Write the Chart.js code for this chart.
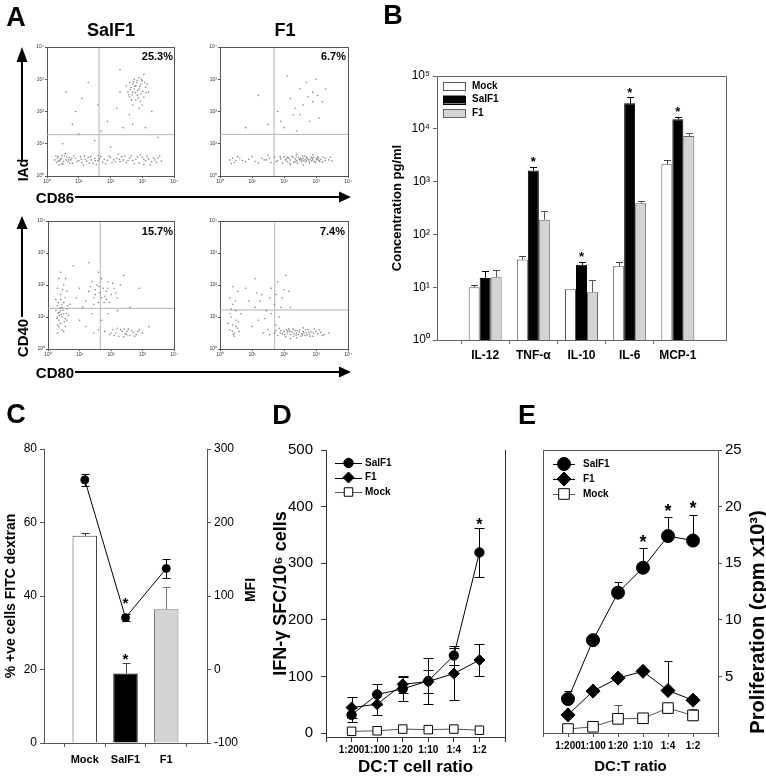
<!DOCTYPE html>
<html>
<head>
<meta charset="utf-8">
<title>DC activation figure</title>
<script src="https://cdn.jsdelivr.net/npm/chart.js@4.4.1/dist/chart.umd.min.js"></script>
<style>
  body { margin: 0; background: #fff; }
  #fig { position: relative; width: 766px; height: 783px; overflow: hidden; font-family: "Liberation Sans", Arial, sans-serif; color: #000; }
  #fig canvas { position: absolute; }
  .t { position: absolute; font-weight: bold; white-space: nowrap; line-height: 1; transform: translate(-50%, -50%); }
  .r { transform: translate(-100%, -50%); }
  .v { transform: translate(-50%, -50%) rotate(-90deg); }
</style>
</head>
<body>
<div id="fig">
  <canvas id="a1" width="152" height="148" style="left:28px;top:40px"></canvas>
  <canvas id="a2" width="152" height="148" style="left:201px;top:40px"></canvas>
  <canvas id="a3" width="151" height="147" style="left:29px;top:214px"></canvas>
  <canvas id="a4" width="152" height="147" style="left:201px;top:214px"></canvas>
  <canvas id="cb" width="350" height="320" style="left:385px;top:60px"></canvas>
  <canvas id="cc" width="262" height="353" style="left:0px;top:430px"></canvas>
  <canvas id="cd" width="250" height="353" style="left:262px;top:430px"></canvas>
  <canvas id="ce" width="254" height="353" style="left:512px;top:430px"></canvas>

  <svg width="766" height="783" style="position:absolute;left:0;top:0">
    <g stroke="#000" stroke-width="2">
      <line x1="22" y1="162" x2="22" y2="58"/>
      <line x1="75" y1="197" x2="342" y2="197"/>
      <line x1="22" y1="317" x2="22" y2="226"/>
      <line x1="75" y1="372" x2="342" y2="372"/>
    </g>
    <g fill="#000">
      <polygon points="22,47 16.5,62 27.5,62"/>
      <polygon points="351,197 339,191.5 339,202.5"/>
      <polygon points="22,216 16.5,229 27.5,229"/>
      <polygon points="351,372 339,366.5 339,377.5"/>
    </g>
  </svg>

  <div class="t" style="left:16px;top:17px;font-size:27px">A</div>
  <div class="t" style="left:393px;top:15px;font-size:27px">B</div>
  <div class="t" style="left:16px;top:414px;font-size:27px">C</div>
  <div class="t" style="left:282px;top:415px;font-size:27px">D</div>
  <div class="t" style="left:527px;top:415px;font-size:27px">E</div>

  <div class="t" style="left:111px;top:30px;font-size:18px">SalF1</div>
  <div class="t" style="left:285px;top:30px;font-size:18px">F1</div>
  <div class="t r" style="left:173px;top:56px;font-size:11px">25.3%</div>
  <div class="t r" style="left:346px;top:56px;font-size:11px">6.7%</div>
  <div class="t r" style="left:173px;top:231px;font-size:11px">15.7%</div>
  <div class="t r" style="left:345px;top:231px;font-size:11px">7.4%</div>
  <div class="t v" style="left:23px;top:170px;font-size:14px">IAd</div>
  <div class="t" style="left:55px;top:197px;font-size:15px">CD86</div>
  <div class="t v" style="left:22px;top:338px;font-size:15px">CD40</div>
  <div class="t" style="left:55px;top:372px;font-size:15px">CD80</div>

  <div class="t v" style="left:250px;top:590px;font-size:14px">MFI</div>
  <div class="t v" style="left:757px;top:622px;font-size:20px">Proliferation (cpm x10³)</div>
</div>

<script>
// ---------- data ----------
// A: flow cytometry dots, in log decades (0 = 10^0 ... 4 = 10^4), x,y pairs
var dotsIAdSal = [
  0.25,0.5, 0.3,0.42, 0.35,0.6, 0.4,0.48, 0.45,0.55, 0.5,0.38, 0.55,0.62, 0.6,0.5, 0.65,0.44, 0.7,0.57,
  0.75,0.5, 0.8,0.4, 0.9,0.55, 1.0,0.48, 1.05,0.6, 1.1,0.42, 1.2,0.52, 1.25,0.46, 1.3,0.58, 1.4,0.5,
  1.45,0.4, 1.5,0.55, 1.6,0.47, 1.7,0.6, 1.75,0.43, 1.8,0.52, 1.9,0.49, 2.0,0.58, 2.05,0.41, 2.1,0.5,
  2.2,0.55, 2.3,0.45, 2.35,0.6, 2.4,0.5, 2.5,0.42, 2.6,0.56, 2.7,0.48, 2.8,0.52, 2.9,0.4, 3.0,0.58,
  3.1,0.47, 3.2,0.53, 3.3,0.44, 3.4,0.5, 3.5,0.56, 3.6,0.46, 0.38,0.35, 0.58,0.7, 1.15,0.33, 2.25,0.68,
  2.95,0.66, 3.25,0.34, 0.42,0.52, 0.52,0.45, 0.33,0.55, 1.55,0.36, 2.65,0.63, 3.05,0.36,
  0.28,0.62, 0.47,0.36, 0.62,0.58, 0.72,0.4, 0.85,0.62, 0.95,0.45, 1.08,0.52, 1.18,0.62, 1.33,0.4, 1.38,0.6,
  1.52,0.47, 1.65,0.53, 1.85,0.38, 1.95,0.62, 2.15,0.44, 2.28,0.52, 2.45,0.62, 2.55,0.48, 2.75,0.38, 2.85,0.6,
  3.05,0.52, 3.15,0.62, 3.35,0.56, 3.45,0.42, 3.55,0.62, 0.36,0.46, 0.48,0.64, 0.68,0.5, 0.78,0.55, 1.62,0.63,
  2.6,2.9, 2.7,2.6, 2.8,2.8, 2.9,2.7, 3.0,2.95, 2.75,3.0, 2.85,2.5, 2.95,2.55, 3.1,2.75, 2.65,2.75,
  2.55,2.6, 2.8,2.35, 3.05,2.45, 2.9,3.05, 2.7,2.85, 3.15,2.85, 2.6,2.45, 2.85,2.65, 2.95,2.85, 2.75,2.7,
  3.0,2.2, 2.9,2.1, 2.7,2.2, 3.2,2.6, 2.5,2.8, 3.05,3.15, 2.82,2.9, 2.68,2.52,
  2.62,2.68, 2.78,2.58, 2.92,2.78, 3.02,2.62, 2.72,2.92, 2.88,2.42, 2.98,3.0, 2.58,2.52, 3.12,2.58, 2.76,2.78,
  2.84,2.96, 2.66,2.36, 3.08,2.9, 2.94,2.32,
  0.8,1.6, 1.1,2.4, 1.9,1.7, 2.2,2.1, 2.4,1.5, 1.5,1.1, 2.6,1.9, 0.5,1.0, 2.0,0.9, 3.3,2.0,
  1.3,2.9, 2.3,3.3, 0.9,2.0, 1.7,1.4, 3.5,1.2, 1.0,1.3, 2.7,1.6, 3.1,1.5, 1.6,2.2, 0.6,2.6, 2.3,2.6
];
var dotsIAdF1 = [
  0.3,0.5, 0.4,0.55, 0.45,0.42, 0.55,0.6, 0.7,0.48, 0.9,0.52, 1.1,0.45, 1.3,0.55, 1.45,0.5, 1.6,0.42,
  1.7,0.58, 1.8,0.48, 1.9,0.53, 1.95,0.4, 2.0,0.6, 2.05,0.5, 2.1,0.45, 2.15,0.56, 2.2,0.5, 2.25,0.62,
  2.3,0.42, 2.35,0.53, 2.4,0.47, 2.45,0.58, 2.5,0.5, 2.55,0.44, 2.6,0.55, 2.65,0.62, 2.7,0.48, 2.75,0.52,
  2.8,0.4, 2.85,0.58, 2.9,0.5, 2.95,0.45, 3.0,0.55, 3.05,0.6, 3.1,0.48, 3.15,0.52, 3.2,0.43, 3.3,0.55,
  3.4,0.5, 3.5,0.47, 2.2,0.35, 2.6,0.34, 2.9,0.66, 2.4,0.68, 1.5,0.65, 0.35,0.38, 2.7,0.58, 2.35,0.45,
  2.52,0.55, 2.78,0.46, 3.02,0.5, 2.12,0.58, 2.62,0.47, 2.88,0.55,
  0.5,0.48, 0.62,0.55, 0.8,0.44, 1.0,0.6, 1.2,0.4, 1.38,0.5, 1.55,0.56, 1.75,0.45, 1.88,0.6, 2.08,0.55,
  2.18,0.4, 2.28,0.57, 2.38,0.62, 2.42,0.4, 2.48,0.52, 2.58,0.62, 2.68,0.44, 2.72,0.56, 2.82,0.52, 2.92,0.58,
  2.98,0.42, 3.08,0.56, 3.12,0.44, 3.22,0.58, 3.28,0.48, 3.45,0.58, 2.56,0.5, 2.66,0.52, 2.86,0.47, 3.06,0.52,
  2.0,1.5, 2.3,1.9, 2.6,2.2, 2.9,2.6, 3.0,3.0, 2.5,2.7, 2.2,2.4, 2.8,1.7, 3.2,2.3, 1.8,2.0,
  2.4,1.4, 2.7,2.9, 3.1,1.8, 1.5,1.6, 2.1,3.1, 0.8,1.5, 1.2,2.5, 3.3,2.7,
  2.5,1.9, 2.9,2.3, 2.35,2.1, 2.75,2.45, 1.9,1.7, 3.05,2.5
];
var dotsCD40Sal = [
  0.3,1.0, 0.4,1.2, 0.35,0.9, 0.5,1.1, 0.45,1.3, 0.55,0.95, 0.6,1.25, 0.3,1.35, 0.4,0.8, 0.5,1.45,
  0.35,1.15, 0.65,1.05, 0.25,1.2, 0.45,1.0, 0.55,1.6, 0.4,1.7, 0.3,1.9, 0.5,2.0, 0.35,2.2, 0.6,1.8,
  0.45,0.6, 0.3,0.5, 0.55,0.7, 0.4,2.4, 0.25,1.55, 0.7,1.4, 0.5,0.55, 0.35,0.7, 0.42,1.08, 0.38,1.28,
  0.32,1.12, 0.48,1.22, 0.58,1.1, 0.28,0.95, 0.44,1.4, 0.52,0.85, 0.36,1.05, 0.62,1.35, 0.4,1.55, 0.3,0.75,
  0.46,1.85, 0.56,2.2, 0.33,1.45, 0.6,0.9,
  1.3,1.8, 1.45,1.6, 1.55,2.0, 1.65,1.75, 1.75,1.9, 1.85,1.55, 1.9,2.1, 2.0,1.7, 2.1,1.9, 1.6,1.45,
  1.4,2.1, 1.7,2.2, 1.8,1.65, 1.5,1.85, 2.2,1.6, 1.95,1.45, 1.2,1.5, 2.3,2.0, 1.0,1.9, 0.9,1.6,
  1.1,1.3, 2.4,2.3, 1.6,2.4, 1.5,1.7, 1.7,1.6, 1.85,1.8, 1.35,1.95, 2.05,2.05, 1.62,1.95, 1.78,1.45,
  1.9,1.9, 1.45,1.4, 2.15,1.75,
  1.8,0.55, 1.95,0.45, 2.05,0.6, 2.15,0.5, 2.25,0.4, 2.35,0.55, 2.45,0.48, 2.55,0.62, 2.6,0.42, 2.7,0.52,
  2.8,0.45, 2.2,0.65, 2.4,0.38, 1.6,0.6, 1.45,0.5, 3.0,0.5, 2.9,0.6, 2.5,0.55, 1.2,0.7,
  2.0,0.5, 2.3,0.6, 2.5,0.45, 2.65,0.58, 2.75,0.4, 2.1,0.42, 2.85,0.55, 2.42,0.62,
  1.0,0.9, 1.4,1.1, 1.9,1.1, 2.6,1.3, 2.9,1.9, 0.8,2.6, 1.3,2.7, 2.2,1.2, 3.2,0.7, 1.7,0.9
];
var dotsCD40F1 = [
  0.3,0.6, 0.45,0.5, 0.4,0.75, 0.55,0.65, 0.35,1.0, 0.5,1.2, 0.4,1.4, 0.3,1.6, 0.55,1.8, 0.45,0.4,
  0.6,0.55, 0.35,1.25, 0.5,0.9, 0.25,0.8, 0.4,1.95, 0.65,1.1, 0.38,0.55, 0.5,0.7, 0.32,1.1, 0.48,1.5,
  0.42,0.45, 0.58,0.85,
  0.9,1.5, 1.1,1.3, 1.2,0.9, 1.3,1.7, 1.45,1.2, 1.5,0.6, 1.6,1.9, 1.7,1.4, 1.8,2.1, 1.85,1.0,
  1.95,1.6, 2.05,2.3, 2.15,1.8, 1.0,0.7, 1.35,0.5, 1.75,0.75, 0.8,1.9, 1.6,1.1, 2.2,1.3, 1.1,2.2,
  1.25,1.5, 1.55,1.6, 1.9,1.3, 2.0,1.85, 1.4,0.95, 1.15,1.75, 1.75,1.7,
  1.7,0.5, 1.8,0.42, 1.9,0.58, 1.95,0.48, 2.0,0.55, 2.05,0.38, 2.1,0.5, 2.15,0.62, 2.2,0.45, 2.25,0.53,
  2.3,0.4, 2.35,0.58, 2.4,0.5, 2.45,0.45, 2.5,0.6, 2.55,0.48, 2.6,0.55, 2.65,0.42, 2.7,0.5, 2.75,0.6,
  2.8,0.46, 2.85,0.53, 2.9,0.4, 3.0,0.55, 3.05,0.48, 3.15,0.52, 3.25,0.45, 2.2,0.33, 2.6,0.66, 1.85,0.65,
  2.4,0.35, 2.95,0.62, 3.4,0.5, 1.55,0.45, 2.32,0.48, 2.58,0.44, 2.12,0.56,
  1.75,0.58, 1.88,0.5, 2.02,0.45, 2.18,0.55, 2.28,0.62, 2.38,0.43, 2.48,0.53, 2.53,0.4, 2.62,0.5, 2.68,0.6,
  2.78,0.52, 2.82,0.4, 2.92,0.5, 3.1,0.6, 3.2,0.42, 2.42,0.58, 2.72,0.44, 2.08,0.6
];
var gateX = [1.64, 1.69, 1.66, 1.71];
var gateY = [1.28, 1.29, 1.27, 1.22];
var decadeLabels = ['10⁰', '10¹', '10²', '10³', '10⁴'];

// B: cytokines (pg/ml)
var cytokines = ['IL-12', 'TNF-α', 'IL-10', 'IL-6', 'MCP-1'];
var mockB = [10, 33.5, 9.1, 25, 2130];
var mockErrB = [1, 5.5, 0, 5, 400];
var salB = [15, 1630, 26.5, 30400, 15100];
var salErrB = [5, 290, 3.5, 9200, 1800];
var f1B = [15.5, 190, 8, 390, 7300];
var f1ErrB = [5.5, 85, 5.5, 45, 1150];
var starB = [0, 1, 1, 1, 1];
var logTicks = [1, 10, 100, 1000, 10000, 100000];
var logLabels = ['10⁰', '10¹', '10²', '10³', '10⁴', '10⁵'];

// C: FITC dextran uptake
var groupsC = ['Mock', 'SalF1', 'F1'];
var pctC = [56.4, 18.9, 36.4];
var pctErrC = [0.7, 3.0, 6.1];
var mfiC = [258, 70.5, 137.5];
var mfiErrC = [8, 5, 13];

// D, E: DC:T ratios
var ratios = ['1:200', '1:100', '1:20', '1:10', '1:4', '1:2'];
var ticksD = [0, 100, 200, 300, 400, 500];
var salD = [32, 68, 78, 92, 137, 319];
var salErrD = [13, 19, 21, 40, 16, 43];
var f1D = [45, 51, 86, 91, 105, 129];
var f1ErrD = [18, 19, 15, 21, 46, 29];
var mockD = [3, 4, 7, 6, 7, 5];
var mockErrD = [1, 1, 1, 1, 1, 1];
var starD = [0, 0, 0, 0, 0, 1];

var ticksE = [5, 10, 15, 20, 25];
var salE = [3.0, 8.2, 12.4, 14.6, 17.4, 17.0];
var salErrE = [0.7, 0.5, 0.9, 1.7, 1.7, 2.3];
var f1E = [1.6, 3.7, 4.85, 5.45, 3.75, 2.9];
var f1ErrE = [0, 0.1, 0.4, 0.2, 2.6, 0.4];
var mockE = [0.35, 0.55, 1.25, 1.3, 2.2, 1.55];
var mockErrE = [0, 0.2, 1.25, 0.5, 0, 0.55];
var starE = [0, 0, 0, 1, 1, 1];

// ---------- helpers ----------
Chart.defaults.font.family = '"Liberation Sans", Arial, sans-serif';
Chart.defaults.color = '#000';
Chart.defaults.animation = false;
Chart.defaults.plugins.legend.display = false;
Chart.defaults.plugins.tooltip.enabled = false;

function pad(a) { return [null].concat(a, [null]); }

function al(v) { return Math.round(v) + 0.5; }

function fixedTicks(list) {
  return function (s) { s.ticks = list.map(function (v) { return { value: v }; }); };
}

// box lines around the plot area
var framePlugin = {
  id: 'frame',
  afterDatasetsDraw: function (chart, args, o) {
    var a = chart.chartArea, ctx = chart.ctx;
    ctx.save();
    ctx.strokeStyle = o.color || '#555';
    ctx.lineWidth = 1;
    ctx.beginPath();
    (o.sides || []).forEach(function (s) {
      if (s === 'top') { ctx.moveTo(a.left, al(a.top)); ctx.lineTo(a.right, al(a.top)); }
      if (s === 'bottom') { ctx.moveTo(a.left, al(a.bottom)); ctx.lineTo(a.right, al(a.bottom)); }
      if (s === 'left') { ctx.moveTo(al(a.left), a.top); ctx.lineTo(al(a.left), a.bottom); }
      if (s === 'right') { ctx.moveTo(al(a.right), a.top); ctx.lineTo(al(a.right), a.bottom); }
    });
    ctx.stroke();
    ctx.restore();
  }
};

// error bars and significance stars, read from dataset.err / dataset.stars
var errPlugin = {
  id: 'errbars',
  beforeDatasetsDraw: function (chart) {
    var ctx = chart.ctx;
    chart.data.datasets.forEach(function (ds, i) {
      if (!ds.err) return;
      var meta = chart.getDatasetMeta(i);
      var ys = chart.scales[meta.yAxisID];
      ctx.save();
      ctx.lineWidth = 1;
      meta.data.forEach(function (el, j) {
        var v = ds.data[j], e = ds.err[j];
        if (v == null || !e) return;
        ctx.strokeStyle = Array.isArray(ds.errColor) ? ds.errColor[j] : (ds.errColor || '#000');
        var x = al(el.x), w = ds.capW || 4;
        var yt = al(ys.getPixelForValue(v + e));
        var yb = ds.errBoth ? al(ys.getPixelForValue(v - e)) : ys.getPixelForValue(v);
        ctx.beginPath();
        ctx.moveTo(x, yt); ctx.lineTo(x, yb);
        ctx.moveTo(x - w, yt); ctx.lineTo(x + w, yt);
        if (ds.errBoth) { ctx.moveTo(x - w, yb); ctx.lineTo(x + w, yb); }
        ctx.stroke();
      });
      ctx.restore();
    });
  },
  afterDatasetsDraw: function (chart) {
    var ctx = chart.ctx;
    chart.data.datasets.forEach(function (ds, i) {
      if (!ds.stars) return;
      var meta = chart.getDatasetMeta(i);
      var ys = chart.scales[meta.yAxisID];
      var size = ds.starSize || 14;
      ctx.save();
      ctx.fillStyle = '#000';
      ctx.font = 'bold ' + size + 'px "Liberation Sans", Arial, sans-serif';
      ctx.textAlign = 'center';
      ctx.textBaseline = 'middle';
      meta.data.forEach(function (el, j) {
        if (!ds.stars[j]) return;
        var top = ys.getPixelForValue(ds.data[j] + (ds.err ? ds.err[j] : 0));
        ctx.fillText('*', el.x, top - (ds.starGap || 6) + 0.22 * size);
      });
      ctx.restore();
    });
  }
};

function mark(ctx, style, x, y, r) {
  ctx.beginPath();
  if (style === 'circle') ctx.arc(x, y, r, 0, Math.PI * 2);
  else if (style === 'rectRot') { ctx.moveTo(x, y - r); ctx.lineTo(x + r, y); ctx.lineTo(x, y + r); ctx.lineTo(x - r, y); ctx.closePath(); }
  else { var s = r * Math.SQRT1_2; ctx.rect(x - s, y - s, 2 * s, 2 * s); }
  ctx.fill();
  ctx.stroke();
}

// legend drawn inside the plot area
var legendPlugin = {
  id: 'inlegend',
  afterDraw: function (chart, args, o) {
    if (!o.kind) return;
    var ctx = chart.ctx;
    ctx.save();
    ctx.font = 'bold ' + o.size + 'px "Liberation Sans", Arial, sans-serif';
    ctx.textBaseline = 'middle';
    chart.data.datasets.forEach(function (ds, i) {
      var y = o.y + i * o.rowH;
      ctx.lineWidth = 1;
      if (o.kind === 'box') {
        ctx.fillStyle = ds.backgroundColor;
        ctx.strokeStyle = ds.borderColor;
        ctx.fillRect(o.x, y - o.boxH / 2, o.boxW, o.boxH);
        ctx.strokeRect(al(o.x), al(y - o.boxH / 2), o.boxW, o.boxH);
      } else {
        ctx.strokeStyle = ds.borderColor;
        ctx.beginPath();
        ctx.moveTo(o.x, al(y)); ctx.lineTo(o.x + o.lineLen, al(y));
        ctx.stroke();
        ctx.fillStyle = ds.pointBackgroundColor;
        ctx.strokeStyle = ds.pointBorderColor;
        mark(ctx, ds.pointStyle, o.x + o.lineLen / 2, y, ds.pointRadius);
      }
      ctx.fillStyle = '#000';
      ctx.fillText(ds.label, o.textX, y);
    });
    ctx.restore();
  }
};

// ---------- A: flow plots ----------
function flowPlot(id, dots, gx, gy, padRight) {
  var pts = [];
  for (var i = 0; i < dots.length; i += 2) pts.push({ x: dots[i], y: dots[i + 1] });
  var axis = function (fit) {
    return {
      min: 0, max: 4,
      ticks: { stepSize: 1, font: { size: 5 }, padding: 1, color: '#333',
        callback: function (v) { return decadeLabels[v]; } },
      grid: { drawOnChartArea: false, tickLength: 2, color: '#555' },
      border: { color: '#555' },
      afterFit: fit
    };
  };
  new Chart(document.getElementById(id), {
    type: 'scatter',
    data: {
      datasets: [
        { data: pts, pointRadius: 0.8, pointBackgroundColor: 'rgba(80,80,80,0.7)', pointBorderWidth: 0 },
        { data: [{ x: gx, y: 0 }, { x: gx, y: 4 }], showLine: true, borderColor: '#b5b5b5', borderWidth: 1, pointRadius: 0 },
        { data: [{ x: 0, y: gy }, { x: 4, y: gy }], showLine: true, borderColor: '#b5b5b5', borderWidth: 1, pointRadius: 0 }
      ]
    },
    options: {
      responsive: false,
      layout: { padding: { top: 7, right: padRight, left: 0, bottom: 0 } },
      scales: {
        x: axis(function (s) { s.height = 12; }),
        y: axis(function (s) { s.width = 19; })
      },
      plugins: { frame: { sides: ['top', 'right'], color: '#555' } }
    },
    plugins: [framePlugin]
  });
}
flowPlot('a1', dotsIAdSal, gateX[0], gateY[0], 6);
flowPlot('a2', dotsIAdF1, gateX[1], gateY[1], 5);
flowPlot('a3', dotsCD40Sal, gateX[2], gateY[2], 6);
flowPlot('a4', dotsCD40F1, gateX[3], gateY[3], 5);

// ---------- B: cytokines ----------
new Chart(document.getElementById('cb'), {
  type: 'bar',
  data: {
    labels: pad(cytokines).map(function (l) { return l || ''; }),
    datasets: [
      { label: 'Mock', data: pad(mockB), err: pad(mockErrB), errColor: '#444', capW: 3.5,
        backgroundColor: '#ffffff', borderColor: '#555', borderWidth: 1 },
      { label: 'SalF1', data: pad(salB), err: pad(salErrB), errColor: '#000', capW: 3.5,
        stars: pad(starB), starSize: 13, starGap: 7,
        backgroundColor: '#000000', borderColor: '#000', borderWidth: 1 },
      { label: 'F1', data: pad(f1B), err: pad(f1ErrB), errColor: '#555', capW: 3.5,
        backgroundColor: '#d4d4d4', borderColor: '#666', borderWidth: 1 }
    ]
  },
  options: {
    responsive: false,
    layout: { padding: { top: 16, right: 9, bottom: 10, left: 0 } },
    datasets: { bar: { categoryPercentage: 0.685, barPercentage: 1 } },
    scales: {
      x: {
        offset: false,
        ticks: { font: { size: 12, weight: 'bold' }, padding: 4, autoSkip: false, maxRotation: 0 },
        grid: { drawOnChartArea: false, tickLength: 4,
          color: function (c) { return c.tick && c.tick.label === '' ? 'rgba(0,0,0,0)' : '#666'; } },
        border: { color: '#666' },
        afterFit: function (s) { s.height = 30; }
      },
      y: {
        type: 'logarithmic', min: 1, max: 100000,
        afterBuildTicks: fixedTicks(logTicks),
        ticks: { font: { size: 12 }, padding: 3, callback: function (v, i) { return logLabels[i]; } },
        grid: { drawOnChartArea: false, tickLength: 4, color: '#666' },
        border: { color: '#666' },
        title: { display: true, text: 'Concentration pg/ml', font: { size: 13, weight: 'bold' }, padding: { top: 5, bottom: 0 } },
        afterFit: function (s) { s.width = 52; }
      }
    },
    plugins: {
      frame: { sides: ['top', 'right'], color: '#666' },
      inlegend: { kind: 'box', x: 58, y: 26, rowH: 13.5, boxW: 22, boxH: 8, textX: 87, size: 10 }
    }
  },
  plugins: [errPlugin, framePlugin, legendPlugin]
});

// ---------- C: FITC dextran ----------
new Chart(document.getElementById('cc'), {
  type: 'bar',
  data: {
    labels: pad(groupsC).map(function (l) { return l || ''; }),
    datasets: [
      { type: 'line', label: 'MFI', yAxisID: 'y1', data: pad(mfiC), err: pad(mfiErrC), errBoth: true,
        errColor: '#000', capW: 4, stars: pad([0, 1, 0]), starSize: 15, starGap: 13,
        borderColor: '#000', borderWidth: 1, pointStyle: 'circle', pointRadius: 4,
        pointBackgroundColor: '#000', pointBorderColor: '#000' },
      { label: '% +ve', data: pad(pctC), err: pad(pctErrC), capW: 4,
        errColor: ['', '#333', '#444', '#777', ''], stars: pad([0, 1, 0]), starSize: 15, starGap: 6,
        backgroundColor: ['', '#ffffff', '#000000', '#d4d4d4', ''],
        borderColor: ['', '#444', '#000', '#777', ''], borderWidth: 1,
        categoryPercentage: 0.6, barPercentage: 1 }
    ]
  },
  options: {
    responsive: false,
    layout: { padding: { top: 19, right: 0, bottom: 10, left: 0 } },
    scales: {
      x: {
        offset: false,
        ticks: { font: { size: 11, weight: 'bold' }, padding: 6, autoSkip: false, maxRotation: 0 },
        grid: { drawOnChartArea: false, tickLength: 4, color: '#555' },
        border: { color: '#555' },
        afterFit: function (s) { s.height = 30; }
      },
      y: {
        min: 0, max: 80,
        ticks: { stepSize: 20, font: { size: 12 }, padding: 3 },
        grid: { drawOnChartArea: false, tickLength: 4, color: '#555' },
        border: { color: '#555' },
        title: { display: true, text: '% +ve cells FITC dextran', font: { size: 14, weight: 'bold' }, padding: { top: 3, bottom: 0 } },
        afterFit: function (s) { s.width = 44; }
      },
      y1: {
        position: 'right', min: -100, max: 300,
        ticks: { stepSize: 100, font: { size: 12 }, padding: 3 },
        grid: { drawOnChartArea: false, tickLength: 4, color: '#555' },
        border: { color: '#555' },
        afterFit: function (s) { s.width = 55; }
      }
    }
  },
  plugins: [errPlugin]
});

// ---------- D: IFN-gamma ELISPOT ----------
function lineSet(label, data, err, style, r, fill, lineColor, extra) {
  var ds = { label: label, data: pad(data), err: pad(err), borderColor: lineColor, borderWidth: 1,
    pointStyle: style, pointRadius: r, pointBackgroundColor: fill, pointBorderColor: '#000',
    pointBorderWidth: 1, errColor: '#000' };
  for (var k in extra) ds[k] = extra[k];
  return ds;
}

new Chart(document.getElementById('cd'), {
  type: 'line',
  data: {
    labels: pad(ratios).map(function (l) { return l || ''; }),
    datasets: [
      lineSet('SalF1', salD, salErrD, 'circle', 4.7, '#000', '#000', { errBoth: true, capW: 5, stars: pad(starD), starSize: 16, starGap: 6 }),
      lineSet('F1', f1D, f1ErrD, 'rectRot', 5.5, '#000', '#000', { errBoth: true, capW: 5 }),
      lineSet('Mock', mockD, mockErrD, 'rect', 6, '#fff', '#555', { errBoth: true, capW: 3 })
    ]
  },
  options: {
    responsive: false,
    layout: { padding: { top: 20, right: 5, bottom: 0, left: 0 } },
    scales: {
      x: {
        offset: false,
        ticks: { font: { size: 10, weight: 'bold' }, padding: 2, autoSkip: false, maxRotation: 0 },
        grid: { drawOnChartArea: false, tickLength: 5, color: '#333' },
        border: { color: '#333' },
        title: { display: true, text: 'DC:T cell ratio', font: { size: 17, weight: 'bold' }, padding: { top: 0, bottom: 5 } },
        afterFit: function (s) { s.height = 46; }
      },
      y: {
        min: -7, max: 500,
        afterBuildTicks: fixedTicks(ticksD),
        ticks: { font: { size: 15 }, padding: 8 },
        grid: { drawOnChartArea: false, tickLength: 5, color: '#333' },
        border: { color: '#333' },
        title: { display: true, text: 'IFN-γ SFC/10⁶ cells', font: { size: 18, weight: 'bold' }, padding: { top: 8, bottom: 0 } },
        afterFit: function (s) { s.width = 64; }
      }
    },
    plugins: {
      frame: { sides: ['right'], color: '#333' },
      inlegend: { kind: 'line', x: 73, y: 33, rowH: 14.5, lineLen: 27, textX: 103, size: 10 }
    }
  },
  plugins: [errPlugin, framePlugin, legendPlugin]
});

// ---------- E: proliferation ----------
new Chart(document.getElementById('ce'), {
  type: 'line',
  data: {
    labels: pad(ratios).map(function (l) { return l || ''; }),
    datasets: [
      lineSet('SalF1', salE, salErrE, 'circle', 6.5, '#000', '#000', { capW: 4, stars: pad(starE), starSize: 18, starGap: 9 }),
      lineSet('F1', f1E, f1ErrE, 'rectRot', 7, '#000', '#000', { capW: 4 }),
      lineSet('Mock', mockE, mockErrE, 'rect', 7.5, '#fff', '#555', { capW: 4, errColor: '#555' })
    ]
  },
  options: {
    responsive: false,
    layout: { padding: { top: 20, right: 0, bottom: 0, left: 31 } },
    scales: {
      x: {
        offset: false,
        ticks: { font: { size: 10, weight: 'bold' }, padding: 3, autoSkip: false, maxRotation: 0 },
        grid: { drawOnChartArea: false, tickLength: 4, color: '#555' },
        border: { color: '#555' },
        title: { display: true, text: 'DC:T ratio', font: { size: 15, weight: 'bold' }, padding: { top: 0, bottom: 7 } },
        afterFit: function (s) { s.height = 50; }
      },
      y: {
        position: 'right', min: 0, max: 25,
        afterBuildTicks: fixedTicks(ticksE),
        ticks: { font: { size: 15 }, padding: 3 },
        grid: { drawOnChartArea: false, tickLength: 4, color: '#555' },
        border: { color: '#555' },
        afterFit: function (s) { s.width = 48; }
      }
    },
    plugins: {
      frame: { sides: ['left', 'top'], color: '#555' },
      inlegend: { kind: 'line', x: 41, y: 34, rowH: 15, lineLen: 22, textX: 71, size: 10 }
    }
  },
  plugins: [errPlugin, framePlugin, legendPlugin]
});
</script>
</body>
</html>
